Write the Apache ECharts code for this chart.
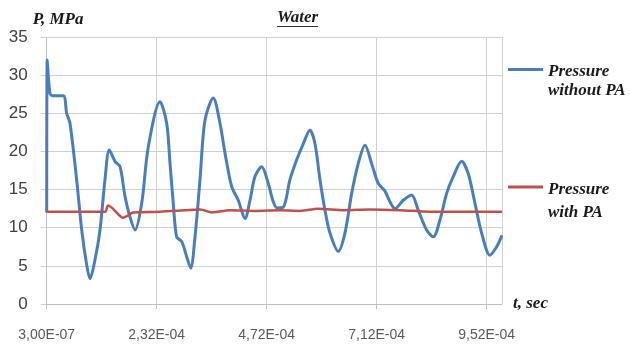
<!DOCTYPE html>
<html>
<head>
<meta charset="utf-8">
<script src="https://cdn.jsdelivr.net/npm/echarts@6/dist/echarts.min.js"></script>
<style>html,body{margin:0;padding:0;background:#fff;}#c{width:630px;height:344px;}</style>
</head>
<body>
<div id="c"></div>
<script>
// time in microseconds (axis positions), pressure in MPa
const xTickLabels = ['3,00E-07', '2,32E-04', '4,72E-04', '7,12E-04', '9,52E-04'];
const blueT = [0, 1.1, 7.2, 13.7, 36.2, 43.6, 50.8, 65.5, 76.4, 87.3, 94.5, 105.4, 116.3, 127.2, 136.6, 149, 160, 170.9, 181.8, 192.7, 207.3, 221.7, 247.2, 261.8, 269, 276.2, 283.6, 294.5, 305.5, 314.2, 323.6, 334.5, 345.4, 363.5, 378.1, 389, 403.6, 418, 432.7, 443.6, 454.5, 469.1, 483.5, 493.8, 502.5, 516.2, 530.8, 545.5, 559.8, 574.5, 585.4, 596.3, 607.2, 618.1, 636.2, 650.8, 665.5, 679.8, 694.5, 709.1, 723.5, 738.1, 749, 759.9, 778, 796.3, 810.7, 829, 843.5, 858.1, 872.7, 887.1, 905.4, 919.8, 934.5, 949.1, 967.2, 981.8, 993.4];
const blueP = [12.0, 32.0, 27.6, 27.3, 27.3, 25.0, 23.7, 16.2, 9.7, 5.1, 3.3, 5.8, 9.7, 16.3, 20.2, 18.7, 18.0, 14.1, 11.4, 9.7, 13.2, 20.6, 26.5, 23.7, 18.5, 13.2, 8.8, 8.2, 6.2, 4.7, 8.8, 16.3, 24.1, 27.0, 23.7, 19.8, 15.4, 13.6, 11.2, 13.6, 16.7, 18.0, 15.8, 13.5, 12.6, 12.7, 16.3, 18.9, 21.0, 22.8, 21.0, 16.3, 12.3, 9.3, 6.9, 9.3, 14.5, 18.4, 20.8, 18.4, 15.8, 14.8, 13.4, 12.5, 13.6, 14.3, 12.3, 9.7, 8.8, 11.0, 14.5, 16.7, 18.7, 17.1, 13.2, 9.3, 6.4, 7.5, 9.0];
const redT = [0, 127.2, 133.7, 142.5, 155.6, 166.5, 177.4, 188.3, 247.2, 301.7, 334.5, 360.6, 399.9, 454.5, 509, 552.6, 592, 650.8, 705.3, 770.8, 836.3, 993.4];
const redP = [12.1, 12.1, 12.9, 12.6, 11.8, 11.3, 11.6, 12.0, 12.1, 12.3, 12.4, 12.0, 12.3, 12.2, 12.3, 12.2, 12.5, 12.3, 12.4, 12.3, 12.1, 12.1];
const yTicks = [0, 5, 10, 15, 20, 25, 30, 35];

const serif = {fontFamily: 'Liberation Serif', fontWeight: 'bold', fontStyle: 'italic', fontSize: 17, color: '#1a1a1a'};
const chart = echarts.init(document.getElementById('c'));
chart.setOption({
  animation: false,
  title: {text: 'Water', left: 277, top: 9, padding: 0, textStyle: serif},
  graphic: [{type: 'line', shape: {x1: 277, y1: 26.5, x2: 318, y2: 26.5}, style: {stroke: '#333', lineWidth: 1}}],
  grid: {left: 46.7, right: 128, top: 37, bottom: 40},
  legend: [
    {data: ['Pressure without PA'], left: 508, top: 62, padding: 0, itemWidth: 35, itemHeight: 26, itemGap: 0,
     icon: 'path://M0,0L35,0L35,3L0,3Z M0,25.9L0.05,25.9L0.05,26L0,26Z', formatter: () => 'Pressure\nwithout PA',
     textStyle: Object.assign({}, serif, {lineHeight: 19})},
    {data: ['Pressure with PA'], left: 508, top: 178.5, padding: 0, itemWidth: 35, itemHeight: 32, itemGap: 0,
     icon: 'path://M0,0L35,0L35,3L0,3Z M0,31.9L0.05,31.9L0.05,32L0,32Z', formatter: () => 'Pressure\nwith PA',
     textStyle: Object.assign({}, serif, {lineHeight: 23})}
  ],
  xAxis: {
    type: 'value', min: 0, max: 993.5, interval: 240,
    name: 't, sec', nameLocation: 'end', nameGap: 11,
    nameTextStyle: Object.assign({}, serif, {align: 'left', verticalAlign: 'middle'}),
    axisLine: {lineStyle: {color: '#bfbfbf'}},
    axisTick: {show: true, length: 5, lineStyle: {color: '#bfbfbf'}},
    axisLabel: {margin: 24, fontFamily: 'Liberation Sans', fontSize: 14, color: '#595959',
      formatter: v => xTickLabels[Math.round(v / 240)] || '', showMaxLabel: false},
    splitLine: {show: true, lineStyle: {color: '#d0d0d0'}}
  },
  yAxis: {
    type: 'value', min: yTicks[0], max: yTicks[yTicks.length - 1], interval: 5,
    name: 'P, MPa', nameLocation: 'end', nameGap: 6,
    nameTextStyle: Object.assign({}, serif, {align: 'left', padding: [0, 0, 0, -14]}),
    axisLine: {show: true, lineStyle: {color: '#bfbfbf'}},
    axisTick: {show: true, length: 6, lineStyle: {color: '#d0d0d0'}},
    axisLabel: {margin: 19, fontFamily: 'Liberation Sans', fontSize: 17, color: '#404040'},
    splitLine: {show: true, lineStyle: {color: '#d0d0d0'}}
  },
  series: [
    {name: 'Pressure without PA', type: 'line', data: blueT.map((t, i) => [t, blueP[i]]),
     smooth: 0.3, showSymbol: false, lineStyle: {color: '#4a7ebb', width: 3}, itemStyle: {color: '#4a7ebb'}},
    {name: 'Pressure with PA', type: 'line', data: redT.map((t, i) => [t, redP[i]]),
     smooth: 0.3, showSymbol: false, lineStyle: {color: '#c0504d', width: 2.5}, itemStyle: {color: '#c0504d'}}
  ]
});
</script>
</body>
</html>
